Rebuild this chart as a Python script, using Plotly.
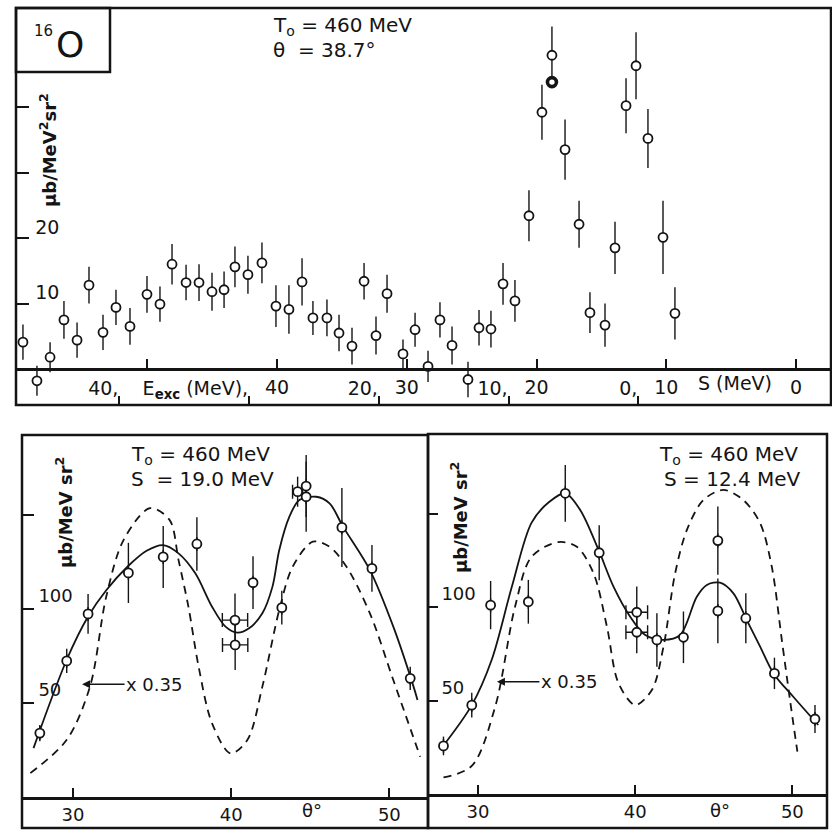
import plotly.graph_objects as go

# ---------------- data ----------------
# Top panel: 16O(e,e'p) spectrum, T0 = 460 MeV, theta = 38.7 deg
top_S = [59.58, 58.50, 57.49, 56.42, 55.41, 54.49, 53.41, 52.41, 51.33, 50.02,
         49.02, 48.09, 47.01, 46.01, 45.01, 44.08, 43.24, 42.24, 41.16, 40.08,
         39.08, 38.07, 37.23, 36.15, 35.22, 34.22, 33.29, 32.37, 31.52, 30.29,
         29.36, 28.36, 27.44, 26.51, 25.28, 24.43, 23.51, 22.58, 21.66, 20.58,
         19.58, 18.81, 18.81, 17.80, 16.72, 15.88, 14.72, 13.95, 13.10, 12.33,
         11.41, 10.25, 9.33]
top_sigma = [4.1, -1.8, 1.8, 7.5, 4.4, 12.8, 5.6, 9.4, 6.5, 11.4,
             9.9, 16.0, 13.2, 13.2, 11.8, 12.1, 15.6, 14.4, 16.2, 9.6,
             9.1, 13.3, 7.8, 7.8, 5.5, 3.5, 13.4, 5.1, 11.5, 2.3,
             6.0, 0.4, 7.5, 3.6, -1.6, 6.3, 6.1, 13.0, 10.4, 23.4,
             39.2, 47.9, 43.8, 33.5, 22.1, 8.6, 6.7, 18.5, 40.2, 46.3,
             35.2, 20.1, 8.5]
top_err = [2.7, 2.3, 2.3, 2.9, 2.7, 2.8, 2.7, 2.7, 2.8, 2.8,
           2.7, 3.1, 2.7, 2.8, 2.9, 2.8, 3.1, 2.9, 3.1, 3.2,
           3.7, 3.6, 2.6, 2.8, 2.8, 2.8, 2.8, 2.9, 2.9, 2.2,
           2.6, 2.4, 2.7, 2.9, 2.7, 2.7, 2.8, 3.2, 3.2, 3.9,
           4.2, 4.4, 0.0, 4.6, 3.6, 3.1, 3.3, 4.0, 4.2, 5.1,
           4.5, 5.6, 4.0]
top_bold_index = 42

S_ticks = [50, 40, 30, 20, 10, 0]
S_ticktext = ["", "40", "30", "20", "10", "0"]
E_ticks = [40, 30, 20, 10, 0]
E_ticktext = ["40,", "E<sub><b>exc</b></sub> (MeV),", "20,", "10,", "0,"]
E_OFFSET = 12.15          # S = E_exc + 12.15 MeV
top_yticks = [10, 20, 30, 40]
top_yticktext = ["10", "20", "", ""]

# Bottom-left panel: S = 19.0 MeV
L_theta = [27.9, 29.6, 30.95, 33.5, 35.7, 37.83, 40.24, 40.25, 41.38, 43.2,
           44.2, 44.74, 44.74, 47.0, 48.9, 51.32]
L_sigma = [34.0, 72.4, 97.4, 119.2, 127.7, 134.6, 94.1, 80.9, 114.0, 100.7,
           162.4, 165.4, 159.7, 143.4, 121.6, 63.1]
L_err = [4.3, 6.4, 10.6, 16.0, 16.5, 14.2, 14.2, 13.3, 14.0, 9.0,
         8.0, 16.5, 18.6, 21.0, 12.4, 6.2]
L_xerr = [0, 0, 0, 0, 0, 0, 0.8, 0.8, 0, 0, 0.32, 0, 0, 0, 0, 0]
L_solid_theta = [27.5, 29.6, 30.95, 32.1, 33.5, 34.65, 35.7, 36.67, 37.73, 38.79,
                 39.64, 40.38, 41.13, 41.97, 42.61, 43.04, 43.68, 44.31, 45.38, 46.22,
                 47.07, 48.77, 50.25, 51.53, 51.78]
L_solid = [26.0, 73.0, 96.0, 110.0, 123.0, 131.0, 134.0, 129.6, 119.0, 101.2,
           90.6, 87.4, 89.7, 97.7, 111.9, 131.4, 149.1, 158.0, 159.7, 156.2,
           143.8, 120.7, 90.6, 58.7, 51.6]
L_dash_theta = [27.3, 29.6, 31.07, 32.1, 33.2, 34.86, 36.1, 36.67, 37.3, 37.94,
                38.79, 39.96, 41.02, 41.97, 43.04, 43.89, 45.16, 46.22, 47.29, 48.77,
                50.25, 51.95]
L_dash = [12.7, 30.4, 58.7, 106.6, 136.8, 153.6, 147.4, 126.0, 101.0, 69.3,
          39.2, 23.2, 30.3, 58.7, 99.5, 122.5, 135.8, 133.1, 122.5, 97.7,
          62.2, 21.4]

# Bottom-right panel: S = 12.4 MeV
R_theta = [27.8, 29.6, 30.8, 33.2, 35.55, 37.71, 40.1, 40.1, 41.38, 43.07,
           45.26, 45.26, 47.04, 48.86, 51.44]
R_sigma = [25.7, 47.5, 101.0, 102.8, 160.8, 129.0, 97.2, 86.5, 82.4, 83.8,
           135.5, 97.9, 94.0, 64.5, 40.1]
R_err = [5.0, 6.6, 12.9, 11.7, 15.2, 14.7, 13.7, 11.2, 14.3, 13.8,
         18.2, 17.3, 13.4, 8.4, 7.5]
R_xerr = [0, 0, 0, 0, 0, 0, 0.69, 0.69, 0, 0, 0, 0, 0, 0, 0]
R_solid_theta = [27.7, 29.6, 30.87, 32.15, 33.4, 34.5, 35.55, 36.5, 37.67, 38.62,
                 39.68, 40.64, 41.8, 42.86, 43.92, 44.56, 45.4, 46.25, 47.1, 47.95,
                 48.8, 50.06, 51.65]
R_solid = [24.8, 47.5, 71.8, 110.8, 145.0, 156.0, 160.8, 151.9, 130.5, 110.9,
           94.8, 85.0, 82.4, 85.0, 105.5, 111.8, 113.0, 107.3, 93.0, 78.8,
           64.5, 52.0, 36.9]
R_dash_theta = [27.8, 29.6, 31.1, 32.35, 33.4, 35.1, 36.29, 37.35, 38.2, 38.94,
                40.0, 41.06, 41.8, 42.54, 43.29, 44.34, 45.61, 46.88, 47.95, 48.69,
                49.33, 49.85, 50.32]
R_dash = [8.9, 15.0, 47.0, 100.0, 126.8, 134.7, 132.2, 118.0, 89.5, 59.2,
          47.6, 55.6, 78.8, 118.0, 141.2, 157.2, 162.6, 157.2, 144.8, 121.6,
          82.4, 50.3, 22.6]

low_xticks = [30, 40, 50]
low_xticktext = ["30", "40", "50"]
low_yticks = [50, 100, 150]
low_yticktext = ["50", "100", ""]

# ---------------- geometry / style ----------------
W = H = 832
INK = "#141414"
FONT = "DejaVu Sans"


def fx(p):
    return p / W


def fy(p):
    return 1 - p / H


# top panel pixel geometry
T_L, T_R, T_T, T_B, T_ZERO = 16, 831, 8, 405, 369
S0_PX, PX_PER_MEV, PX_PER_UNIT = 796, 12.975, 6.55
S_range = [(S0_PX - T_L) / PX_PER_MEV, (S0_PX - T_R) / PX_PER_MEV]
top_yrange = [(T_ZERO - T_B) / PX_PER_UNIT, (T_ZERO - T_T) / PX_PER_UNIT]

# lower-left
LL_L, LL_R, LL_T, LL_B, LL_40, LL_PPD, LL_PPU = 22, 428, 435, 797, 231.2, 15.815, 1.88
L_range = [40 + (LL_L - LL_40) / LL_PPD, 40 + (LL_R - LL_40) / LL_PPD]
L_yrange = [0, (LL_B - LL_T) / LL_PPU]
# lower-right
LR_L, LR_R, LR_T, LR_B, LR_40, LR_PPD, LR_PPU = 428, 827, 434, 794, 635.2, 15.715, 1.87
R_range = [40 + (LR_L - LR_40) / LR_PPD, 40 + (LR_R - LR_40) / LR_PPD]
R_yrange = [0, (LR_B - LR_T) / LR_PPU]
FRAME_BOTTOM = 828

fig = go.Figure()

marker_common = dict(symbol="circle", size=9, color="white")
err_common = dict(type="data", color=INK, thickness=1.4, width=0, visible=True)

# top spectrum
top_lw = [1.8] * len(top_S)
top_lw[top_bold_index] = 3.6
fig.add_trace(go.Scatter(
    x=top_S, y=top_sigma, mode="markers", xaxis="x", yaxis="y",
    marker=dict(**marker_common, line=dict(color=INK, width=top_lw)),
    error_y=dict(array=top_err, **err_common), cliponaxis=False, showlegend=False))
# empty trace that registers the E_exc scale (secondary x axis) on the top panel
fig.add_trace(go.Scatter(x=E_ticks, y=[None] * len(E_ticks), mode="markers",
                         xaxis="x4", yaxis="y", showlegend=False, hoverinfo="skip"))


def add_panel(xa, ya, th_s, v_s, th_d, v_d, th, sig, err, xerr):
    fig.add_trace(go.Scatter(x=th_d, y=v_d, mode="lines", xaxis=xa, yaxis=ya,
                             line=dict(color=INK, width=1.8, dash="8px,6px", shape="spline", smoothing=0.9),
                             showlegend=False))
    fig.add_trace(go.Scatter(x=th_s, y=v_s, mode="lines", xaxis=xa, yaxis=ya,
                             line=dict(color=INK, width=1.8, shape="spline", smoothing=0.9),
                             showlegend=False))
    fig.add_trace(go.Scatter(x=th, y=sig, mode="markers", xaxis=xa, yaxis=ya,
                             marker=dict(**marker_common, line=dict(color=INK, width=1.8)),
                             error_y=dict(array=err, **err_common),
                             error_x=dict(type="data", array=xerr, color=INK, thickness=1.4, width=7),
                             cliponaxis=False, showlegend=False))


add_panel("x2", "y2", L_solid_theta, L_solid, L_dash_theta, L_dash, L_theta, L_sigma, L_err, L_xerr)
add_panel("x3", "y3", R_solid_theta, R_solid, R_dash_theta, R_dash, R_theta, R_sigma, R_err, R_xerr)


def tf(size):
    return dict(family=FONT, size=size, color=INK)


base = dict(showgrid=False, zeroline=False, tickcolor=INK, linecolor=INK,
            tickmode="array", fixedrange=True)

layout = dict(
    width=W, height=H, margin=dict(l=0, r=0, t=0, b=0),
    paper_bgcolor="white", plot_bgcolor="rgba(0,0,0,0)",
    font=dict(family=FONT, color=INK),
    xaxis=dict(**base, domain=[fx(T_L), fx(T_R)], range=S_range, anchor="free", position=fy(T_ZERO),
               showline=True, linewidth=2.5, ticks="inside", ticklen=9, tickwidth=2,
               tickvals=S_ticks, ticktext=S_ticktext, tickfont=tf(19)),
    xaxis4=dict(**base, overlaying="x", anchor="y", side="bottom",
                range=[S_range[0] - E_OFFSET, S_range[1] - E_OFFSET],
                showline=False, ticks="inside", ticklen=9, tickwidth=2, tickfont=tf(19),
                tickvals=E_ticks, ticktext=E_ticktext, ticklabelposition="inside left"),
    yaxis=dict(**base, domain=[fy(T_B), fy(T_T)], range=top_yrange, anchor="free", position=fx(T_L),
               showline=False, ticks="inside", ticklen=12, tickwidth=2, tickfont=tf(19),
               tickvals=top_yticks, ticktext=top_yticktext, ticklabelposition="inside",
               ticklabelshift=-11, ticklabelstandoff=7),
    xaxis2=dict(**base, domain=[fx(LL_L), fx(LL_R)], range=L_range, anchor="y2",
                showline=True, linewidth=2.5, ticks="inside", ticklen=9, tickwidth=2,
                tickvals=low_xticks, ticktext=low_xticktext, tickfont=tf(18)),
    yaxis2=dict(**base, domain=[fy(LL_B), fy(LL_T)], range=L_yrange, anchor="x2",
                showline=False, ticks="inside", ticklen=12, tickwidth=2, tickfont=tf(18),
                tickvals=low_yticks, ticktext=low_yticktext, ticklabelposition="inside",
                ticklabelshift=-13, ticklabelstandoff=5),
    xaxis3=dict(**base, domain=[fx(LR_L), fx(LR_R)], range=R_range, anchor="y3",
                showline=True, linewidth=2.5, ticks="inside", ticklen=9, tickwidth=2,
                tickvals=low_xticks, ticktext=low_xticktext, tickfont=tf(18)),
    yaxis3=dict(**base, domain=[fy(LR_B), fy(LR_T)], range=R_yrange, anchor="x3",
                showline=False, ticks="inside", ticklen=10, tickwidth=2, tickfont=tf(18),
                tickvals=low_yticks, ticktext=low_yticktext, ticklabelposition="inside",
                ticklabelshift=-13, ticklabelstandoff=4),
)
fig.update_layout(**layout)

# frames (paper coordinates)
frame = dict(type="rect", xref="paper", yref="paper", line=dict(color=INK, width=2.5),
             fillcolor="rgba(0,0,0,0)", layer="above")
fig.add_shape(**frame, x0=fx(T_L), x1=fx(T_R), y0=fy(T_B), y1=fy(T_T))
fig.add_shape(**frame, x0=fx(T_L), x1=fx(110), y0=fy(72), y1=fy(T_T))
fig.add_shape(**frame, x0=fx(LL_L), x1=fx(LL_R), y0=fy(FRAME_BOTTOM), y1=fy(LL_T))
fig.add_shape(**frame, x0=fx(LR_L), x1=fx(LR_R), y0=fy(FRAME_BOTTOM), y1=fy(LR_T))


def txt(text, x, y, size=20, xanchor="left", angle=0, xref="paper", yref="paper"):
    fig.add_annotation(text=text, x=x, y=y, xref=xref, yref=yref, showarrow=False,
                       xanchor=xanchor, yanchor="middle", textangle=angle,
                       font=tf(size))


# top panel labels
txt("16", fx(43), fy(31), size=15, xanchor="center")
txt("O", fx(70), fy(44), size=36, xanchor="center")
txt("T<sub>o</sub> = 460 MeV", fx(271), fy(26), size=20)
txt("\u03b8  = 38.7\u00b0", fx(271), fy(50), size=20)
txt("<b>\u03bcb/MeV<sup>2</sup>sr<sup>2</sup></b>", fx(48), fy(150), size=18, xanchor="center", angle=-90)
txt("S (MeV)", 4.7, fy(383), size=19, xanchor="center", xref="x")

# lower-left labels
txt("T<sub>o</sub> = 460 MeV", fx(129), fy(455), size=20)
txt("S  = 19.0 MeV", fx(129), fy(479), size=20)
txt("<b>\u03bcb/MeV sr<sup>2</sup></b>", fx(64), fy(513), size=18, xanchor="center", angle=-90)
txt("\u03b8\u00b0", 45.1, fy(810), size=18, xanchor="center", xref="x2")
# lower-right labels
txt("T<sub>o</sub> = 460 MeV", fx(657), fy(455), size=20)
txt("S = 12.4 MeV", fx(662), fy(479), size=20)
txt("<b>\u03bcb/MeV sr<sup>2</sup></b>", fx(459), fy(518), size=18, xanchor="center", angle=-90)
txt("\u03b8\u00b0", 45.4, fy(810), size=18, xanchor="center", xref="x3")

# "x 0.35" arrows pointing at the dashed curves
for xa, ya, tip in (("x2", "y2", 30.57), ("x3", "y3", 31.2)):
    fig.add_annotation(text="x 0.35", x=tip, y=60, xref=xa, yref=ya, showarrow=True,
                       ax=72, ay=0, arrowhead=2, arrowsize=1, arrowwidth=1.6, arrowcolor=INK,
                       standoff=0, font=tf(18))

fig.write_html("out.html", config={"displayModeBar": False},
               post_script="document.body.style.margin='0';document.body.style.overflow='hidden';")
